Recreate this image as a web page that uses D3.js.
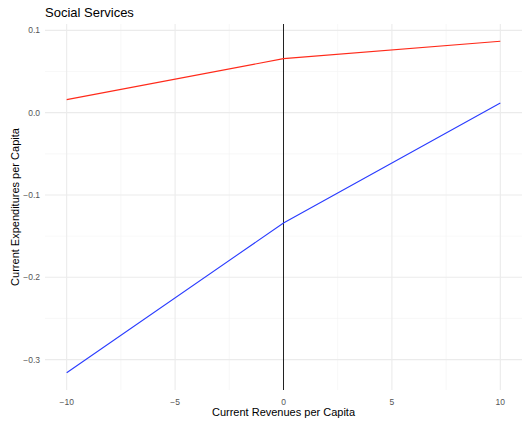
<!DOCTYPE html>
<html><head><meta charset="utf-8">
<script src="https://cdn.jsdelivr.net/npm/d3@7"></script>
<style>body{margin:0;background:#fff}svg{display:block}text{font-family:"Liberation Sans",Arial,sans-serif}</style>
</head><body><svg id="c" width="522" height="425"></svg>
<script>
const xVals = [-10, 0, 10];
const redVals = [0.0158, 0.0656, 0.0867];
const blueVals = [-0.316, -0.134, 0.0118];
const xTicks = [-10, -5, 0, 5, 10];
const xMinor = [-7.5, -2.5, 2.5, 7.5];
const yTicks = [-0.3, -0.2, -0.1, 0.0, 0.1];
const yMinor = [-0.25, -0.15, -0.05, 0.05];
const seriesNames = ["red", "blue"];

const svg = d3.select("#c");
const L = 45, R = 522, T = 24, B = 390;
const x = d3.scaleLinear().domain([-11, 11]).range([L, R]);
const y = d3.scaleLinear().domain([-0.3369, 0.1077]).range([B, T]);

const g = svg.append("g");
g.selectAll(".xm").data(xMinor).join("line").attr("x1", d=>x(d)).attr("x2", d=>x(d)).attr("y1", T).attr("y2", B).attr("stroke", "#f3f3f3").attr("stroke-width", 0.6);
g.selectAll(".ym").data(yMinor).join("line").attr("y1", d=>y(d)).attr("y2", d=>y(d)).attr("x1", L).attr("x2", R).attr("stroke", "#f3f3f3").attr("stroke-width", 0.6);
g.selectAll(".xg").data(xTicks).join("line").attr("x1", d=>x(d)).attr("x2", d=>x(d)).attr("y1", T).attr("y2", B).attr("stroke", "#ebebeb").attr("stroke-width", 1.1);
g.selectAll(".yg").data(yTicks).join("line").attr("y1", d=>y(d)).attr("y2", d=>y(d)).attr("x1", L).attr("x2", R).attr("stroke", "#ebebeb").attr("stroke-width", 1.1);

// tick labels
svg.selectAll(".xt").data(xTicks).join("text").attr("x", d=>x(d)).attr("y", 405).attr("text-anchor","middle").attr("font-size", 8.5).attr("fill", "#555").text(d=>d3.format("d")(d));
svg.selectAll(".yt").data(yTicks).join("text").attr("x", 40).attr("y", d=>y(d)+3).attr("text-anchor","end").attr("font-size", 8.5).attr("fill", "#555").text(d=>d3.format(".1f")(d));

// zero vertical line
svg.append("line").attr("x1", x(0)).attr("x2", x(0)).attr("y1", T).attr("y2", B).attr("stroke", "#222").attr("stroke-width", 1);

const line = d3.line().x((d,i)=>x(xVals[i])).y(d=>y(d));
const colors = {red: "#ff2a1a", blue: "#2a3cff"};
[redVals, blueVals].forEach((vals, i) => {
  svg.append("path").attr("d", line(vals)).attr("fill", "none").attr("stroke", colors[seriesNames[i]]).attr("stroke-width", 1.1);
});

svg.append("text").attr("x", 45).attr("y", 17).attr("font-size", 13).attr("fill", "#000").text("Social Services");
svg.append("text").attr("x", (L+R)/2).attr("y", 416).attr("text-anchor","middle").attr("font-size", 11).attr("fill","#000").text("Current Revenues per Capita");
svg.append("text").attr("transform", `translate(19,${(T+B)/2}) rotate(-90)`).attr("text-anchor","middle").attr("font-size", 11).attr("fill","#000").text("Current Expenditures per Capita");
</script></body></html>
